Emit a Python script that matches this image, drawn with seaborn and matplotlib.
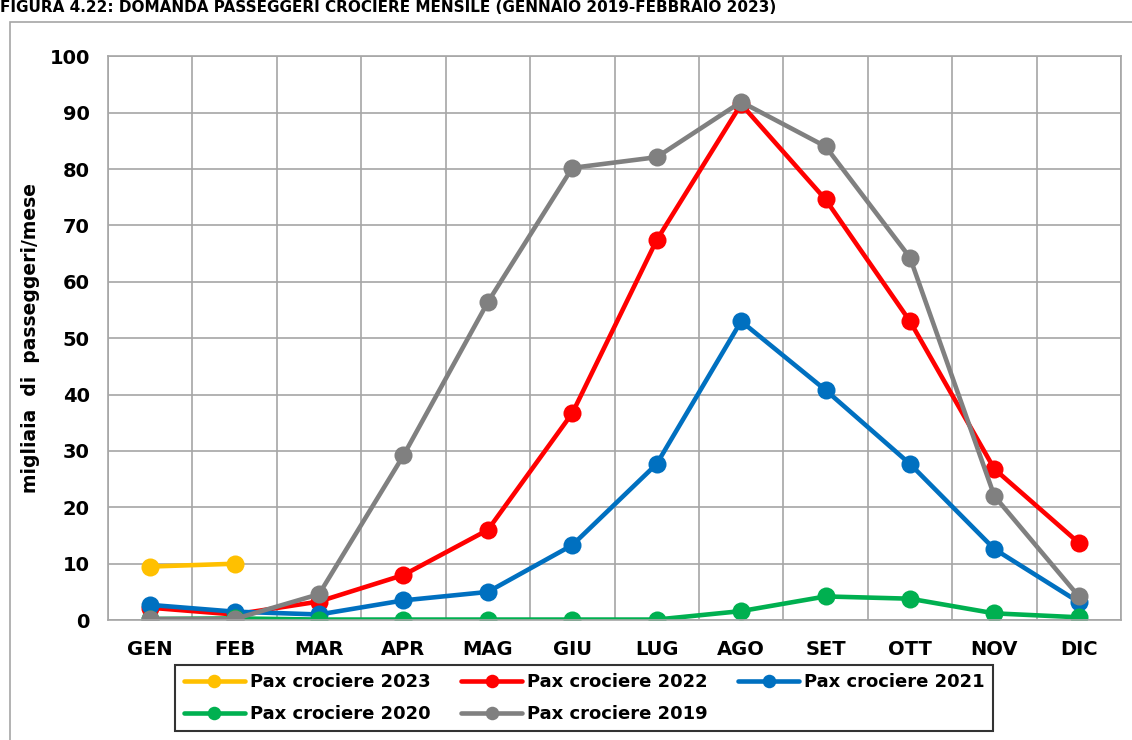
import numpy as np
import pandas as pd
import seaborn as sns
import matplotlib.pyplot as plt
from matplotlib.patches import Rectangle

mesi = ['GEN', 'FEB', 'MAR', 'APR', 'MAG', 'GIU', 'LUG', 'AGO', 'SET', 'OTT', 'NOV', 'DIC']

pax_2023 = [9.5, 10.0]
pax_2022 = [2.2, 1.0, 3.3, 8.0, 16.0, 36.7, 67.4, 91.5, 74.6, 53.0, 26.8, 13.7]
pax_2021 = [2.7, 1.5, 1.0, 3.5, 5.0, 13.3, 27.7, 53.0, 40.8, 27.7, 12.6, 3.2]
pax_2020 = [0.2, 0.3, 0.1, 0.1, 0.1, 0.1, 0.1, 1.6, 4.2, 3.8, 1.2, 0.5]
pax_2019 = [0.2, 0.2, 4.6, 29.2, 56.4, 80.2, 82.1, 91.9, 84.0, 64.3, 22.0, 4.2]

serie = {
    'Pax crociere 2022': pax_2022,
    'Pax crociere 2021': pax_2021,
    'Pax crociere 2020': pax_2020,
    'Pax crociere 2019': pax_2019,
    'Pax crociere 2023': pax_2023,
}
colori = {
    'Pax crociere 2023': '#FFC000',
    'Pax crociere 2022': '#FF0000',
    'Pax crociere 2021': '#0070C0',
    'Pax crociere 2020': '#00B050',
    'Pax crociere 2019': '#808080',
}

rows = []
for nome, valori in serie.items():
    for i, v in enumerate(valori):
        rows.append({'mese': i, 'valore': v, 'serie': nome})
df = pd.DataFrame(rows)

sns.set_style('white')
plt.rcParams['font.family'] = ['DejaVu Sans']
plt.rcParams['text.color'] = 'black'
plt.rcParams['xtick.labelcolor'] = 'black'
plt.rcParams['ytick.labelcolor'] = 'black'
plt.rcParams['axes.labelcolor'] = 'black'

fig = plt.figure(figsize=(11.32, 7.4), dpi=100)
ax = fig.add_axes([0.0954, 0.162, 0.8949, 0.762])

sns.lineplot(data=df, x='mese', y='valore', hue='serie', hue_order=list(serie.keys()),
             palette=colori, marker='o', markersize=13, linewidth=3.3,
             markeredgewidth=0, ax=ax, legend=True)

ax.set_xlim(-0.5, 11.5)
ax.set_ylim(0, 100)
ax.set_yticks(np.arange(0, 101, 10))
ax.set_yticklabels([str(v) for v in range(0, 101, 10)], fontsize=14, fontweight='bold')
ax.set_xticks(np.arange(12))
ax.set_xticklabels(mesi, fontsize=14, fontweight='bold')
ax.set_xticks(np.arange(-0.5, 12, 1), minor=True)
ax.tick_params(axis='x', which='major', length=0, pad=14)
ax.tick_params(axis='x', which='minor', length=8, color='#A6A6A6', width=1.2)
ax.tick_params(axis='y', length=7, color='#A6A6A6', width=1.2, pad=6)
ax.grid(axis='y', which='major', color='#A6A6A6', linewidth=1.2)
ax.grid(axis='x', which='minor', color='#A6A6A6', linewidth=1.2)
ax.set_axisbelow(True)
for s in ax.spines.values():
    s.set_color('#A6A6A6')
    s.set_linewidth(1.2)

ax.set_xlabel('')
ax.set_ylabel('migliaia  di  passeggeri/mese', fontsize=13.5, fontweight='bold', labelpad=7)

handles, labels = ax.get_legend_handles_labels()
h = dict(zip(labels, handles))
ordine = ['Pax crociere 2023', 'Pax crociere 2020', 'Pax crociere 2022',
          'Pax crociere 2019', 'Pax crociere 2021']
ax.legend([h[k] for k in ordine], ordine, ncol=3, loc='upper left',
          bbox_to_anchor=(0.0577, -0.064), frameon=True, fancybox=False,
          edgecolor='black', prop={'weight': 'bold', 'size': 13},
          handlelength=3.4, handletextpad=0.25, columnspacing=1.7,
          borderpad=0.45, labelspacing=0.75, markerscale=0.75)
ax.get_legend().get_frame().set_linewidth(1.5)

fig.text(0.0, 1.0, 'FIGURA 4.22: DOMANDA PASSEGGERI CROCIERE MENSILE (GENNAIO 2019-FEBBRAIO 2023)',
         fontsize=11, fontweight='bold', va='top', ha='left',
         family=['Liberation Sans Narrow', 'DejaVu Sans'])

fig.patches.append(Rectangle((0.009, -0.01), 1.0, 0.98, transform=fig.transFigure,
                             fill=False, edgecolor='#A6A6A6', linewidth=1.2))

fig.savefig('out.png', dpi=100)
